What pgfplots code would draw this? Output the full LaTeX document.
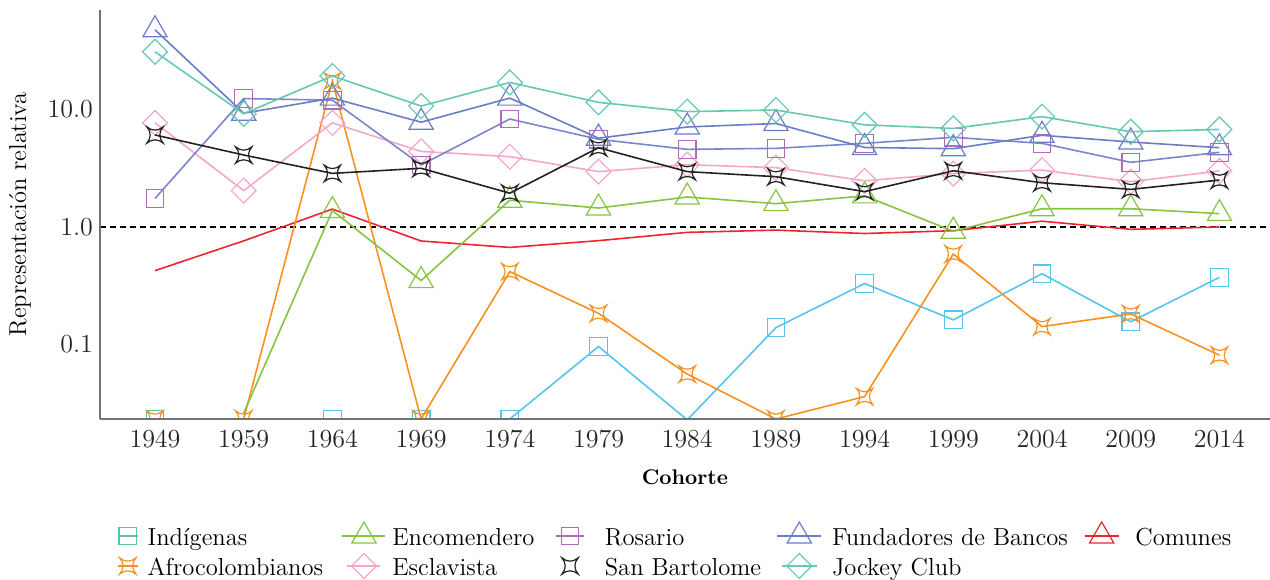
\documentclass[border=0pt]{standalone}
\usepackage{pgfplots}
\pgfplotsset{compat=1.18}
\usetikzlibrary{plotmarks}

\definecolor{cInd}{HTML}{55C5EE}
\definecolor{cIndLeg}{HTML}{5CC2AE}
\definecolor{cAfro}{HTML}{FA9020}
\definecolor{cEnc}{HTML}{86C441}
\definecolor{cEsc}{HTML}{F4A7C9}
\definecolor{cRos}{HTML}{B06CB8}
\definecolor{cRosLine}{HTML}{7A86CC}
\definecolor{cSB}{HTML}{222222}
\definecolor{cFun}{HTML}{6A7EC6}
\definecolor{cCom}{HTML}{EE2530}
\definecolor{cJoc}{HTML}{66C8B2}

% four-pointed star with concave sides
\pgfdeclareplotmark{astro}{%
  \pgfpathmoveto{\pgfqpoint{-\pgfplotmarksize}{\pgfplotmarksize}}%
  \pgfpathcurveto{\pgfqpoint{-0.35\pgfplotmarksize}{0.45\pgfplotmarksize}}{\pgfqpoint{0.35\pgfplotmarksize}{0.45\pgfplotmarksize}}{\pgfqpoint{\pgfplotmarksize}{\pgfplotmarksize}}%
  \pgfpathcurveto{\pgfqpoint{0.45\pgfplotmarksize}{0.35\pgfplotmarksize}}{\pgfqpoint{0.45\pgfplotmarksize}{-0.35\pgfplotmarksize}}{\pgfqpoint{\pgfplotmarksize}{-\pgfplotmarksize}}%
  \pgfpathcurveto{\pgfqpoint{0.35\pgfplotmarksize}{-0.45\pgfplotmarksize}}{\pgfqpoint{-0.35\pgfplotmarksize}{-0.45\pgfplotmarksize}}{\pgfqpoint{-\pgfplotmarksize}{-\pgfplotmarksize}}%
  \pgfpathcurveto{\pgfqpoint{-0.45\pgfplotmarksize}{-0.35\pgfplotmarksize}}{\pgfqpoint{-0.45\pgfplotmarksize}{0.35\pgfplotmarksize}}{\pgfqpoint{-\pgfplotmarksize}{\pgfplotmarksize}}%
  \pgfpathclose
  \pgfusepathqstroke
}

\pgfplotsset{
  % legend image: line of length #1 centred in a cell of width #2
  limg/.style 2 args={legend image code/.code={%
      \path (-#2/2,0pt) (#2/2,0pt);
      \draw[mark repeat=2,mark phase=2,##1] plot coordinates {(-#1/2,0pt) (0pt,0pt) (#1/2,0pt)};}},
  ser/.style={line width=0.8pt, mark options={line width=0.6pt, solid}},
  tri/.style={mark=triangle, mark size=7pt},
  sqr/.style={mark=square, mark size=4.4pt},
  dia/.style={mark=square, mark size=4.4pt, mark options={rotate=45, line width=0.6pt, solid}},
  ast/.style={mark=astro, mark size=4.1pt},
}

\begin{document}
\begin{tikzpicture}
\begin{axis}[
  at={(0,0)}, anchor=south west,
  scale only axis, width=585pt, height=204.5pt,
  ymode=log, ymin=0.0232, ymax=70.3,
  xmin=-0.62, xmax=12.57,
  axis x line*=bottom, axis y line*=left,
  axis line style={draw=black!55, line width=0.75pt, -},
  axis on top,
  clip marker paths=true,
  xtick={0,...,12},
  xticklabels={1949,1959,1964,1969,1974,1979,1984,1989,1994,1999,2004,2009,2014},
  ytick={0.1,1,10}, yticklabels={0.1,1.0,10.0},
  yminorticks=false,
  major tick length=0pt,
  tick label style={font=\fontsize{13}{15}\selectfont, text=black!85},
  xticklabel style={yshift=-2pt},
  every axis y label/.style={at={(axis description cs:-0.0684,0.5)}, anchor=center, rotate=90},
  every axis x label/.style={at={(axis description cs:0.5,-0.1418)}, anchor=center},
  ylabel={\fontsize{12.2}{14}\selectfont Representación relativa},
  xlabel={\fontsize{10.6}{13}\selectfont\bfseries Cohorte},
  legend columns=5,
  legend cell align=left,
  legend style={
    at={(axis description cs:0.01026,-0.2518)}, anchor=north west,
    draw=none, fill=none, inner sep=0pt, outer sep=0pt,
    font=\fontsize{12.3}{14}\selectfont,
    nodes={inner sep=2pt, text height=10pt, text depth=0pt},
    row sep=1pt,
    /tikz/column 2/.style={column sep=6.3pt},
    /tikz/column 4/.style={column sep=0.4pt},
    /tikz/column 6/.style={column sep=2.7pt},
    /tikz/column 8/.style={column sep=0pt},
  },
]

% reference level
\addplot[black, dashed, line width=0.6pt, dash pattern=on 3pt off 2pt, forget plot]
  coordinates {(-0.62,1) (12.57,1)};

% Comunes
\addplot[ser, cCom, no markers, forget plot] coordinates {
 (0,0.425) (1,0.762) (2,1.42) (3,0.76) (4,0.67) (5,0.765) (6,0.90)
 (7,0.94) (8,0.88) (9,0.93) (10,1.12) (11,0.955) (12,1.0)};

% Indigenas: line through every cohort, squares where a value was recorded
\addplot[ser, cInd, no markers, forget plot] coordinates {
 (0,0.0232) (1,0.0232) (2,0.0232) (3,0.0232) (4,0.0232) (5,0.096) (6,0.0228)
 (7,0.139) (8,0.33) (9,0.162) (10,0.40) (11,0.156) (12,0.373)};
\addplot[only marks, cInd, sqr, mark options={line width=0.6pt}, forget plot] coordinates {
 (2,0.0232) (3,0.0232) (4,0.0232) (5,0.096)
 (7,0.139) (8,0.33) (9,0.162) (10,0.40) (11,0.156) (12,0.373)};
\addplot[only marks, cIndLeg, sqr, mark options={line width=0.6pt}, forget plot] coordinates {(0,0.0232)};

% Afrocolombianos
\addplot[ser, cAfro, ast, forget plot] coordinates {
 (0,0.0232) (1,0.0232) (2,17.5) (3,0.0232) (4,0.417) (5,0.184) (6,0.056)
 (7,0.0232) (8,0.036) (9,0.589) (10,0.142) (11,0.182) (12,0.081)};

% Encomendero
\addplot[ser, cEnc, no markers, forget plot] coordinates {
 (1,0.026) (2,1.38) (3,0.35) (4,1.69) (5,1.45) (6,1.80)
 (7,1.58) (8,1.84) (9,0.92) (10,1.43) (11,1.43) (12,1.30)};
\addplot[only marks, cEnc, tri, mark options={line width=0.6pt}, forget plot] coordinates {
 (2,1.38) (3,0.35) (4,1.69) (5,1.45) (6,1.80)
 (7,1.58) (8,1.84) (9,0.92) (10,1.43) (11,1.43) (12,1.30)};

% Esclavista
\addplot[ser, cEsc, dia, forget plot] coordinates {
 (0,7.7) (1,2.04) (2,7.7) (3,4.4) (4,3.97) (5,2.96) (6,3.39)
 (7,3.2) (8,2.47) (9,2.85) (10,3.05) (11,2.43) (12,3.0)};

% Rosario
\addplot[ser, cRosLine, sqr, mark options={cRos, line width=0.6pt}, forget plot] coordinates {
 (0,1.75) (1,12.4) (2,12.0) (3,3.37) (4,8.3) (5,5.58) (6,4.58)
 (7,4.67) (8,5.15) (9,5.8) (10,5.15) (11,3.55) (12,4.32)};

% San Bartolome
\addplot[ser, cSB, ast, forget plot] coordinates {
 (0,6.07) (1,4.1) (2,2.86) (3,3.16) (4,1.94) (5,4.73) (6,2.96)
 (7,2.68) (8,2.0) (9,3.01) (10,2.38) (11,2.09) (12,2.51)};

% Fundadores de Bancos
\addplot[ser, cFun, tri, forget plot] coordinates {
 (0,47.7) (1,9.3) (2,12.5) (3,7.8) (4,12.5) (5,5.7) (6,7.1)
 (7,7.6) (8,4.75) (9,4.64) (10,6.03) (11,5.29) (12,4.73)};

% Jockey Club
\addplot[ser, cJoc, dia, forget plot] coordinates {
 (0,31.0) (1,9.2) (2,19.3) (3,10.7) (4,17.0) (5,11.5) (6,9.6)
 (7,9.9) (8,7.4) (9,6.9) (10,8.7) (11,6.47) (12,6.77)};

% legend, row by row
\addlegendimage{ser, cIndLeg, sqr, limg={10pt}{15pt}}
\addlegendentry{Indígenas}
\addlegendimage{ser, cEnc, tri, limg={21.5pt}{23.5pt}}
\addlegendentry{Encomendero}
\addlegendimage{ser, cRos, sqr, limg={14pt}{30pt}}
\addlegendentry{Rosario}
\addlegendimage{ser, cFun, tri, limg={22pt}{28pt}}
\addlegendentry{Fundadores de Bancos}
\addlegendimage{ser, cCom, tri, limg={17pt}{29pt}}
\addlegendentry{Comunes}
\addlegendimage{ser, cAfro, ast, limg={10pt}{15pt}}
\addlegendentry{Afrocolombianos}
\addlegendimage{ser, cEsc, dia, limg={16.5pt}{23.5pt}}
\addlegendentry{Esclavista}
\addlegendimage{ser, cSB, ast, limg={0pt}{30pt}}
\addlegendentry{San Bartolome}
\addlegendimage{ser, cJoc, dia, limg={17.5pt}{28pt}}
\addlegendentry{Jockey Club}
\end{axis}
\pgfresetboundingbox
\path[use as bounding box] (-50pt,-80pt) rectangle (585pt,209.5pt);
\end{tikzpicture}
\end{document}
